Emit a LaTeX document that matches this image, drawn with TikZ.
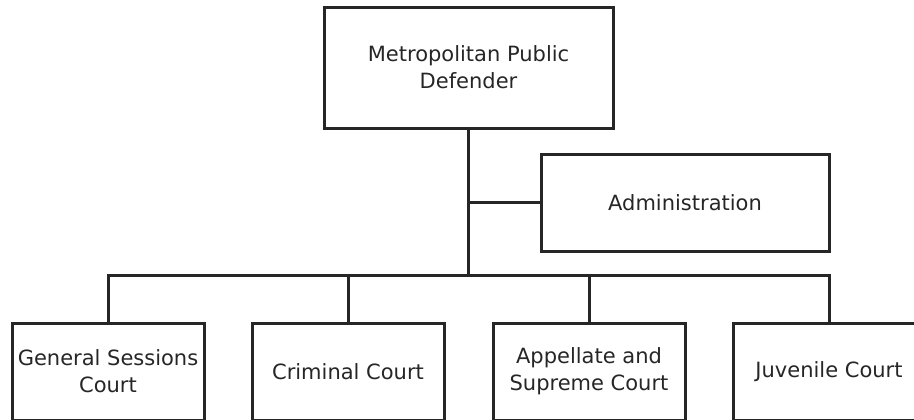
\documentclass[tikz,border=0pt]{standalone}
\usepackage{fontspec}
\setmainfont{DejaVu Sans}
\begin{document}
\begin{tikzpicture}[x=0.5pt,y=-0.5pt,
        unit/.style={draw=black!85, line width=1.5pt, align=center, inner sep=2pt, text=black!85, font=\fontsize{10.5}{13.5}\selectfont},
        court/.style={unit, minimum width=96pt, minimum height=48.5pt},
        wire/.style={draw=black!85, line width=1.5pt}]
        \clip (0,0) rectangle (914,419);
        \node [unit, minimum width=144.5pt, minimum height=60.5pt] (mpd) at (468.5,67.5) {Metropolitan Public\\Defender};
        \node [unit, minimum width=144pt, minimum height=48.5pt] (admin) at (685,202.5) {Administration};
        \node [court] (gs) at (108,371.5) {General Sessions\\Court};
        \node [court] (cc) at (348,371.5) {Criminal Court};
        \node [court] (asc) at (589,371.5) {Appellate and\\Supreme Court};
        \node [court] (jc) at (829,371.5) {Juvenile Court};
        \coordinate (bus) at (468.5,275);
        \draw[wire] (mpd.south) -- (bus);
        \draw[wire] (admin.west) -- (admin.west -| mpd.south);
        \draw[wire] (gs.north) -- (gs.north |- bus) -- (jc.north |- bus) -- (jc.north);
        \draw[wire] (cc.north) -- (cc.north |- bus);
        \draw[wire] (asc.north) -- (asc.north |- bus);
    \end{tikzpicture}
\end{document}
